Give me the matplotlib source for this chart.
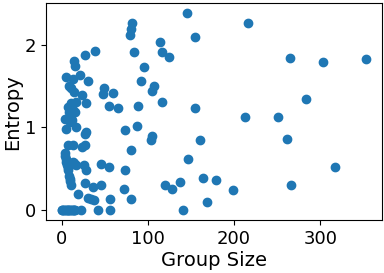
import numpy as np
import matplotlib.pyplot as plt

# group size vs entropy
group_size = [
    145.4, 216.0, 81.5, 80.3, 79.5, 154.7, 114.2, 39.0, 84.2, 116.5,
    26.8, 124.6, 14.5, 264.5, 353.5, 302.7, 16.0, 95.7, 5.6, 13.3,
    21.0, 30.6, 92.5, 8.7, 11.3, 14.1, 49.5, 47.6, 59.9, 107.3,
    105.4, 24.0, 283.5, 11.3, 17.1, 7.5, 13.3, 8.7, 15.3, 28.0,
    55.3, 65.0, 88.8, 116.5, 154.7, 212.5, 250.6, 3.7, 9.5, 12.5,
    5.5, 16.4, 73.8, 87.6, 28.7, 26.8, 105.4, 103.5, 160.5, 261.5,
    7.5, 13.3, 24.0, 26.8, 80.3, 3.7, 4.9, 6.4, 7.5, 8.7,
    10.2, 11.3, 13.3, 17.1, 25.6, 28.3, 45.7, 55.3, 73.8, 146.6,
    316.5, 27.2, 36.8, 45.7, 72.6, 120.0, 128.1, 137.3, 163.9, 179.0,
    198.6, 265.7, 19.4, 30.3, 34.1, 37.9, 56.4, 80.3, 168.6, 4.0,
    5.5, 6.9, 9.5, 15.0,
    0, 1, 2, 3, 4, 5, 6, 7, 8, 9, 10, 11, 12, 13, 14, 15, 16,
    23.0, 42.5, 56.4, 140.8,
]
entropy = [
    2.38, 2.26, 2.26, 2.19, 2.12, 2.09, 2.03, 1.92, 1.91, 1.91,
    1.87, 1.85, 1.80, 1.84, 1.83, 1.79, 1.74, 1.73, 1.61, 1.58,
    1.63, 1.56, 1.56, 1.50, 1.47, 1.43, 1.47, 1.40, 1.41, 1.50,
    1.44, 1.39, 1.34, 1.29, 1.31, 1.25, 1.21, 1.19, 1.19, 1.29,
    1.26, 1.24, 1.26, 1.31, 1.23, 1.13, 1.12, 1.10, 1.06, 1.085,
    0.98, 1.00, 0.97, 1.02, 0.94, 0.92, 0.90, 0.85, 0.85, 0.86,
    0.79, 0.79, 0.76, 0.79, 0.73, 0.69, 0.62, 0.54, 0.48, 0.41,
    0.35, 0.31, 0.58, 0.54, 0.545, 0.48, 0.56, 0.52, 0.48, 0.62,
    0.52, 0.33, 0.28, 0.30, 0.26, 0.31, 0.25, 0.34, 0.39, 0.36,
    0.24, 0.31, 0.20, 0.15, 0.13, 0.12, 0.14, 0.13, 0.094, 0.66,
    0.58, 0.51, 0.38, 0.57,
    0, 0, 0, 0, 0, 0, 0, 0, 0, 0, 0, 0, 0, 0, 0, 0, 0,
    0, 0, 0, 0,
]

fig = plt.figure(figsize=(3.84, 2.73), dpi=100)
ax = fig.add_axes([0.1206, 0.194, 0.8734, 0.794])
ax.scatter(group_size, entropy)
ax.set_xlabel("Group Size", fontsize=14, labelpad=2)
ax.set_ylabel("Entropy", fontsize=14, labelpad=2)
ax.set_xticks([0, 100, 200, 300])
ax.set_yticks([0, 1, 2])
ax.tick_params(labelsize=13)
fig.savefig("out.png", dpi=100)
